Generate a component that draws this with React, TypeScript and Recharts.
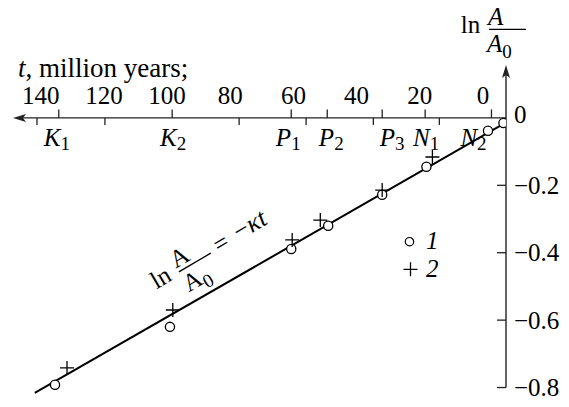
import React from "react";
import {
  ComposedChart,
  Scatter,
  Line,
  XAxis,
  YAxis,
  ReferenceLine,
  ReferenceDot,
  Legend,
  Label,
} from "recharts";

const SERIF = '"Times New Roman", "Liberation Serif", "DejaVu Serif", serif';
const INK = "#000";
const AXIS = "#222";

// ─── Data ────────────────────────────────────────────────────────────────────

// time axis, million years (drawn right-to-left)
const T_MIN = -7.3;
const T_MAX = 148.8;
const timeTicks = [140, 120, 100, 80, 60, 40, 20, 0];

// ln(A/A0) axis
const V_MIN = -0.84;
const V_MAX = 0.16;
const lnTicks = [0, -0.2, -0.4, -0.6, -0.8];

// stages marked above the time axis
const stageLetters = ["K", "K", "P", "P", "P", "N", "N"];
const stageIndex = ["1", "2", "1", "2", "3", "1", "2"];
const stageAges = [134.3, 98.4, 60.7, 49.3, 31.9, 18.3, -2.7];

// stage boundaries marked below the time axis
const boundaryAges = [141.2, 119.7, 77.2, 56.0, 34.7, 13.8];

// series 1 (open circles)
const ages1 = [135.5, 99.1, 60.7, 49.0, 31.9, 17.9, -1.6, -6.5];
const lnA1 = [-0.792, -0.62, -0.389, -0.32, -0.228, -0.145, -0.038, -0.015];

// series 2 (crosses)
const ages2 = [131.7, 98.2, 60.4, 51.5, 31.9, 16.0];
const lnA2 = [-0.742, -0.57, -0.362, -0.303, -0.214, -0.116];

// fitted line ln A/A0 = -kt
const fitAges = [141.9, -6.5];
const fitLnA = [-0.816, -0.018];

// where the equation sits along the line
const eqAge = 103.4;
const eqLnA = -0.509;

// ─── Layout ─────────────────────────────────────────────────────────────────

const W = 569;
const H = 407;
const MARGIN = { top: 63, right: 3, bottom: 6, left: 13 };
const X_AXIS_H = 1;
const PLOT_H = H - MARGIN.top - X_AXIS_H - MARGIN.bottom;
const ZERO_DY = (PLOT_H * V_MAX) / (V_MAX - V_MIN);
const FS = 25;
const SUB = 19;
const stageLabelShift = [-2, 1, -3, 4, 10, 1, -18];

const series1 = ages1.map((t, i) => ({ t, v: lnA1[i] }));
const series2 = ages2.map((t, i) => ({ t, v: lnA2[i] }));
const fitLine = fitAges.map((t, i) => ({ t, v: fitLnA[i] }));
const stages = stageAges.map((t, i) => ({
  t,
  v: 0,
  i,
  letter: stageLetters[i],
  sub: stageIndex[i],
}));
const boundaries = boundaryAges.map((t) => ({ t, v: 0 }));

const txt = { fontFamily: SERIF, fill: INK };

function fmt(v: number) {
  if (v === 0) return "0";
  return (v < 0 ? "\u2212" : "") + Math.abs(v).toFixed(1);
}

// ─── Shapes ─────────────────────────────────────────────────────────────────

const OpenCircle = (p: any) => (
  <circle cx={p.cx} cy={p.cy} r={4.6} fill="#fff" stroke={INK} strokeWidth={1.3} />
);

const Cross = (p: any) => (
  <path
    d={`M${p.cx - 7},${p.cy}H${p.cx + 7}M${p.cx},${p.cy - 7}V${p.cy + 7}`}
    stroke={INK}
    strokeWidth={1.3}
    fill="none"
  />
);

const StageMark = (p: any) => (
  <g>
    <line x1={p.cx} x2={p.cx} y1={p.cy} y2={p.cy - 8.5} stroke={AXIS} strokeWidth={1.3} />
    <text
      x={p.cx + stageLabelShift[p.payload.i]}
      y={p.cy + 28.5}
      textAnchor="middle"
      fontSize={FS}
      {...txt}
    >
      <tspan fontStyle="italic">{p.payload.letter}</tspan>
      <tspan fontSize={SUB} dy={4}>
        {p.payload.sub}
      </tspan>
    </text>
  </g>
);

const BoundaryMark = (p: any) => (
  <line x1={p.cx} x2={p.cx} y1={p.cy} y2={p.cy + 7} stroke={AXIS} strokeWidth={1.3} />
);

const TimeAxisLine = (p: any) => {
  const left = Math.min(p.x1, p.x2);
  const right = Math.max(p.x1, p.x2);
  const y = p.y1;
  return (
    <g>
      <line x1={left + 4} x2={right} y1={y} y2={y} stroke={AXIS} strokeWidth={1.4} />
      <path
        d={`M${left},${y}L${left + 13},${y - 4}L${left + 10},${y}L${left + 13},${y + 4}Z`}
        fill={AXIS}
      />
    </g>
  );
};

const LnAxisLine = (p: any) => {
  const top = Math.min(p.y1, p.y2);
  const bottom = Math.max(p.y1, p.y2);
  const x = p.x1;
  return (
    <g>
      <line x1={x} x2={x} y1={top + 4} y2={bottom} stroke={AXIS} strokeWidth={1.4} />
      <path
        d={`M${x},${top}L${x - 4},${top + 13}L${x},${top + 10}L${x + 4},${top + 13}Z`}
        fill={AXIS}
      />
    </g>
  );
};

// ln A/A0 typeset with the "ln" baseline at (0,0)
function LnFraction({ italic }: { italic: boolean }) {
  const st = italic ? "italic" : "normal";
  return (
    <g>
      <text x={0} y={0} fontSize={FS} {...txt}>
        ln
      </text>
      <text x={27.3} y={-8} fontSize={FS} fontStyle={st} {...txt}>
        A
      </text>
      <line x1={28.3} x2={65.3} y1={-3.7} y2={-3.7} stroke={INK} strokeWidth={1.3} />
      <text x={26.3} y={19} fontSize={FS} fontStyle={st} {...txt}>
        A
        <tspan fontSize={SUB} fontStyle="normal" dy={6}>
          0
        </tspan>
      </text>
    </g>
  );
}

const Equation = (p: any) => (
  <g transform={`translate(${p.cx},${p.cy}) rotate(-30.5)`}>
    <LnFraction italic={false} />
    <text x={72} y={1} fontSize={FS} {...txt}>
      =
    </text>
    <text x={96} y={0} fontSize={26} {...txt}>
      {"\u2212"}
      <tspan fontStyle="italic">κt</tspan>
    </text>
  </g>
);

const TimeTick = (p: any) => (
  <text x={p.x} y={p.y + ZERO_DY - 14} textAnchor="middle" fontSize={FS} {...txt}>
    {p.payload.value}
  </text>
);

const LnTick = (p: any) => {
  const v = p.payload.value;
  return (
    <g>
      {v !== 0 && (
        <line x1={p.x - 9} x2={p.x} y1={p.y} y2={p.y} stroke={AXIS} strokeWidth={1.3} />
      )}
      <text x={p.x + 8} y={p.y + (v === 0 ? 5 : 8.5)} fontSize={FS} {...txt}>
        {fmt(v)}
      </text>
    </g>
  );
};

const TimeTitle = (p: any) => (
  <text x={p.viewBox.x + 5} y={p.viewBox.y + 14} fontSize={27} {...txt}>
    <tspan fontStyle="italic">t</tspan>, million years;
  </text>
);

const LnTitle = (p: any) => (
  <g transform={`translate(${p.viewBox.x - 45.3},${p.viewBox.y - 31})`}>
    <LnFraction italic />
  </g>
);

const LegendBox = (props: any) => {
  const items = (props.payload || []).filter(
    (e: any) => e.value === "1" || e.value === "2"
  );
  return (
    <svg width={50} height={58} style={{ display: "block", overflow: "visible" }}>
      {items.map((e: any, i: number) => {
        const cy = 13.7 + i * 27.6;
        return (
          <g key={e.value}>
            {e.value === "1" ? (
              <circle cx={9.5} cy={cy} r={4.2} fill="#fff" stroke={INK} strokeWidth={1.2} />
            ) : (
              <path
                d={`M${3.5},${cy}H${17.5}M${10.5},${cy - 7}V${cy + 7}`}
                stroke={INK}
                strokeWidth={1.3}
              />
            )}
            <text x={26} y={cy + 7.5} fontSize={FS} fontStyle="italic" {...txt}>
              {e.value}
            </text>
          </g>
        );
      })}
    </svg>
  );
};

// ─── Chart ──────────────────────────────────────────────────────────────────

export default function App() {
  return (
    <div>
      <style>{`body{margin:0}`}</style>
      <ComposedChart width={W} height={H} margin={MARGIN} style={{ fontFamily: SERIF }}>
        <XAxis
          type="number"
          dataKey="t"
          orientation="top"
          height={X_AXIS_H}
          domain={[T_MIN, T_MAX]}
          allowDataOverflow
          reversed
          ticks={timeTicks}
          interval={0}
          axisLine={false}
          tickLine={false}
          tickSize={0}
          tickMargin={0}
          tick={TimeTick}
          label={<Label content={TimeTitle} />}
        />
        <YAxis
          type="number"
          dataKey="v"
          orientation="right"
          width={60}
          domain={[V_MIN, V_MAX]}
          allowDataOverflow
          ticks={lnTicks}
          interval={0}
          axisLine={false}
          tickLine={false}
          tickSize={0}
          tickMargin={0}
          tick={LnTick}
          label={<Label content={LnTitle} />}
        />

        <ReferenceLine y={0} shape={TimeAxisLine} />
        <ReferenceLine
          segment={[
            { x: T_MIN, y: 0.157 },
            { x: T_MIN, y: -0.8 },
          ]}
          shape={LnAxisLine}
          ifOverflow="visible"
        />

        <Scatter
          name="stages"
          data={stages}
          shape={StageMark}
          legendType="none"
          isAnimationActive={false}
        />
        <Scatter
          name="boundaries"
          data={boundaries}
          shape={BoundaryMark}
          legendType="none"
          isAnimationActive={false}
        />

        <Line
          data={fitLine}
          dataKey="v"
          stroke={INK}
          strokeWidth={2}
          dot={false}
          activeDot={false}
          legendType="none"
          isAnimationActive={false}
        />

        <Scatter name="1" data={series1} shape={OpenCircle} isAnimationActive={false} />
        <Scatter name="2" data={series2} shape={Cross} isAnimationActive={false} />

        <ReferenceDot x={eqAge} y={eqLnA} r={0} shape={Equation} />

        <Legend
          layout="vertical"
          align="center"
          verticalAlign="middle"
          content={LegendBox}
          wrapperStyle={{ left: 400, top: 228, width: 50 }}
        />
      </ComposedChart>
    </div>
  );
}
